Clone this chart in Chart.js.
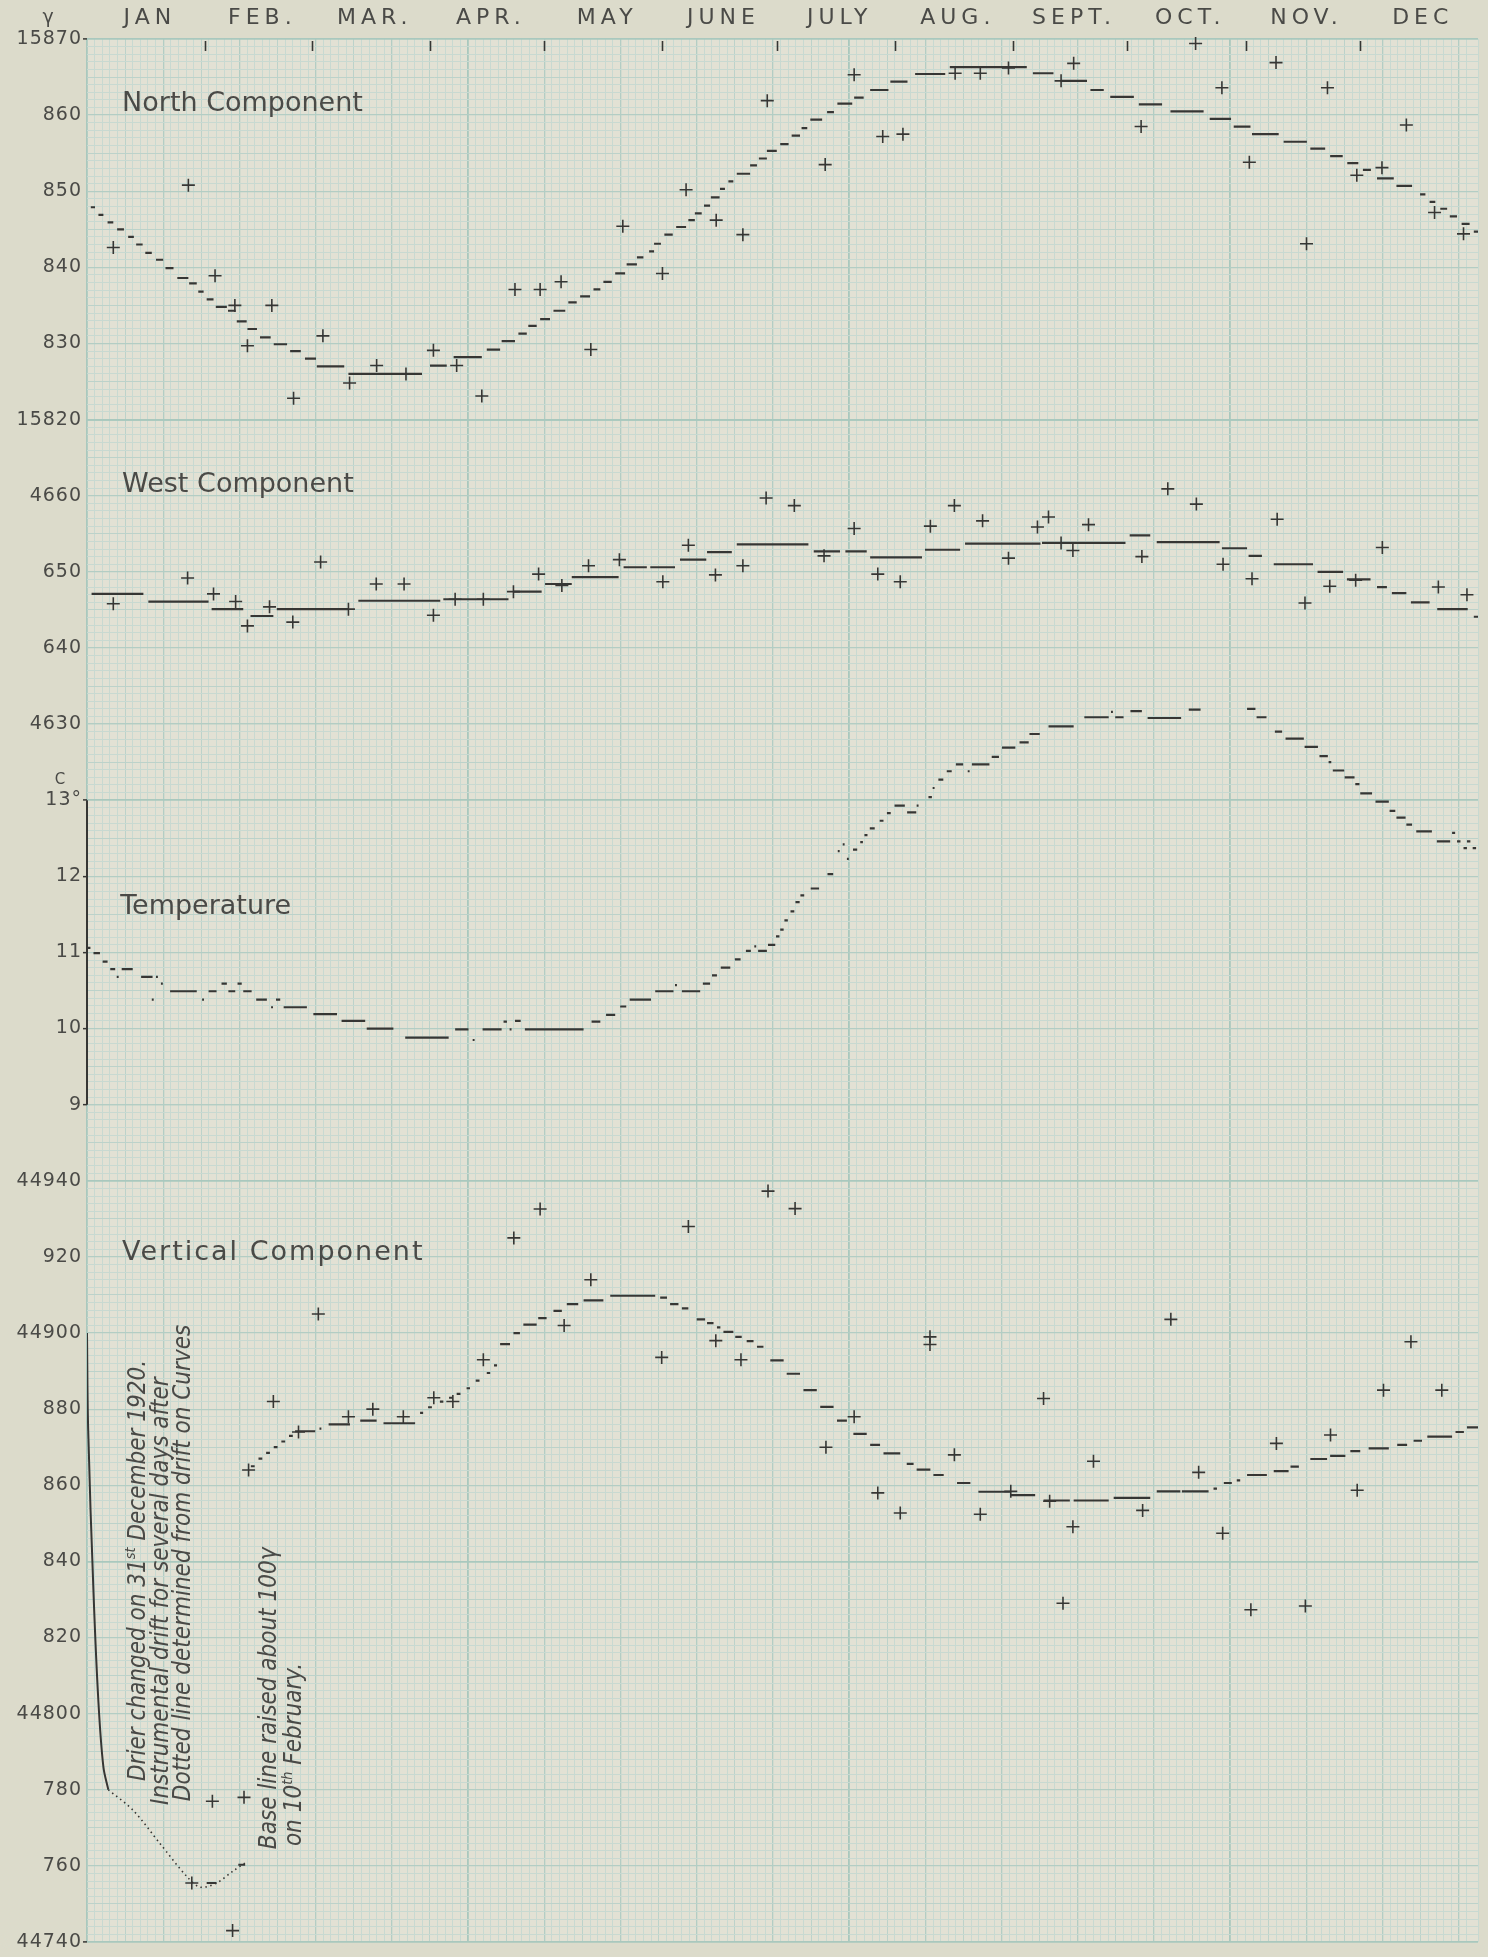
<!DOCTYPE html>
<html>
<head>
<meta charset="utf-8">
<title>Daily means 1921 - North, West, Temperature, Vertical</title>
<script src="https://cdn.jsdelivr.net/npm/chart.js@4.4.1/dist/chart.umd.min.js"></script>
<style>
  html, body { margin: 0; padding: 0; background: #dcdbcb; }
  #wrap { width: 1488px; height: 1957px; position: relative; }
</style>
</head>
<body>
<div id="wrap"><canvas id="chart"></canvas></div>
<script>
"use strict";

// --- axes text ---
const monthNames = ['JAN', 'FEB.', 'MAR.', 'APR.', 'MAY', 'JUNE', 'JULY', 'AUG.', 'SEPT.', 'OCT.', 'NOV.', 'DEC'];
const monthStarts = [0, 31, 59, 90, 120, 151, 181, 212, 243, 273, 304, 334, 365];

const northTicks = [15870, 15860, 15850, 15840, 15830, 15820];
const northTickLabels = ['15870', '860', '850', '840', '830', '15820'];
const westTicks = [4660, 4650, 4640, 4630];
const westTickLabels = ['4660', '650', '640', '4630'];
const tempTicks = [13, 12, 11, 10, 9];
const tempTickLabels = ['13°', '12', '11', '10', '9'];
const vertTicks = [44940, 44920, 44900, 44880, 44860, 44840, 44820, 44800, 44780, 44760, 44740];
const vertTickLabels = ['44940', '920', '44900', '880', '860', '840', '820', '44800', '780', '760', '44740'];

// --- mean curves, drawn as short level strokes: [first day, last day, value] ---
const northMeans = [
  [1.0,2.1,15847.9],[3.0,4.3,15846.9],[5.4,6.9,15845.9],[7.9,9.7,15845.0],[10.8,12.3,15844.0],
  [12.9,14.6,15843.0],[15.3,17.0,15841.9],[18.1,20.0,15841.0],[20.6,22.7,15839.9],[23.7,26.6,15838.6],
  [26.8,28.8,15837.9],[29.2,30.6,15836.8],[31.4,33.2,15835.8],[33.8,36.7,15834.8],[37.0,39.0,15834.3],
  [39.3,41.9,15832.9],[42.1,44.6,15831.9],[45.4,48.2,15830.8],[49.0,52.5,15829.9],[53.3,56.1,15829.0],
  [57.2,60.1,15828.0],[60.3,67.5,15827.0],[68.6,87.9,15826.0],[90.0,94.4,15827.1],[96.2,103.6,15828.2],
  [104.9,108.4,15829.2],[108.8,112.3,15830.3],[113.2,115.4,15831.3],[115.8,118.0,15832.3],[118.9,121.5,15833.2],
  [122.4,125.5,15834.3],[126.3,128.5,15835.4],[129.4,132.0,15836.2],[132.9,134.7,15837.1],[135.5,137.7,15838.1],
  [138.6,141.2,15839.2],[141.6,144.3,15840.4],[144.3,146.0,15841.3],[147.5,148.8,15842.1],[148.8,150.6,15843.1],
  [151.5,153.7,15844.3],[154.6,157.2,15845.3],[157.8,159.5,15846.2],[159.5,161.3,15847.1],[161.9,163.5,15848.1],
  [163.7,166.0,15849.2],[166.1,167.4,15850.3],[168.3,169.6,15851.3],[170.5,174.0,15852.3],[174.0,175.8,15853.4],
  [176.3,178.4,15854.3],[178.4,181.0,15855.3],[181.9,184.1,15856.2],[184.9,187.1,15857.3],[187.5,189.0,15858.3],
  [189.8,192.9,15859.4],[194.2,196.0,15860.4],[196.9,200.8,15861.5],[201.3,203.8,15862.3],[205.5,210.3,15863.3],
  [210.8,215.3,15864.4],[217.3,225.2,15865.4],[226.4,246.6,15866.3],[248.2,253.6,15865.5],[255.5,262.4,15864.5],
  [263.3,266.8,15863.3],[268.5,274.7,15862.4],[276.0,282.1,15861.4],[284.3,293.0,15860.5],[294.6,300.2,15859.5],
  [300.9,305.3,15858.5],[305.7,312.7,15857.5],[314.0,320.1,15856.5],[321.0,324.9,15855.6],[326.2,329.5,15854.6],
  [330.7,333.6,15853.7],[334.8,336.9,15852.8],[338.5,342.9,15851.7],[343.6,347.7,15850.7],[349.8,351.2,15849.6],
  [352.3,353.8,15848.6],[355.1,356.9,15847.7],[357.6,359.5,15846.7],[360.7,362.8,15845.7],[363.9,365.0,15844.7]
];
const westMeans = [
  [1.2,14.8,4647.1],[16.1,31.9,4646.1],[32.7,41.0,4645.1],[42.9,48.9,4644.2],[49.8,68.6,4645.1],
  [71.2,92.7,4646.2],[93.5,110.6,4646.4],[111.9,119.3,4647.4],[120.2,127.2,4648.4],[127.2,139.5,4649.3],
  [140.8,146.9,4650.6],[147.8,154.3,4650.6],[155.6,162.5,4651.6],[162.7,169.2,4652.6],[170.5,189.3,4653.6],
  [190.7,197.6,4652.7],[199.0,204.6,4652.7],[205.5,219.1,4651.9],[219.9,229.1,4652.9],[230.4,250.2,4653.7],
  [250.6,272.5,4653.8],[273.6,279.0,4654.8],[280.7,297.2,4653.9],[297.8,304.4,4653.1],[304.8,308.3,4652.1],
  [311.4,321.7,4651.0],[322.9,329.6,4650.0],[330.6,336.8,4649.0],[338.5,341.1,4648.0],[342.4,346.2,4647.2],
  [347.4,352.3,4646.0],[354.3,362.3,4645.1],[363.9,365.0,4644.1]
];
const tempMeans = [
  [0,0.9,11.06],[1.7,3.4,10.99],[4.1,5.4,10.88],[6.1,7.4,10.78],[7.8,8.3,10.68],[9.1,12.0,10.78],
  [14.2,17.2,10.68],[17.0,17.5,10.38],[18.1,18.6,10.68],[19.4,19.9,10.59],[21.8,28.8,10.49],[30.2,30.7,10.38],
  [31.9,34.0,10.49],[35.3,36.7,10.59],[37.1,38.9,10.49],[39.5,40.6,10.59],[41.0,43.2,10.49],[44.4,47.2,10.38],
  [48.3,48.8,10.28],[49.6,50.7,10.38],[51.6,57.7,10.28],[59.4,65.6,10.19],[66.8,73.0,10.10],[73.4,80.4,10.00],
  [83.5,94.9,9.88],[96.6,100.1,9.99],[101.2,101.7,9.85],[103.8,108.8,9.99],[109.3,110.2,10.09],[110.9,111.4,9.99],
  [112.3,113.8,10.10],[114.9,130.3,9.99],[132.4,134.7,10.09],[136.2,138.6,10.18],[139.9,141.5,10.29],
  [142.4,148.0,10.38],[149.1,153.9,10.49],[154.3,154.8,10.57],[156.1,160.9,10.49],[161.6,163.5,10.59],
  [164.0,165.3,10.70],[166.3,168.8,10.80],[170.0,171.5,10.91],[172.9,174.2,11.02],[175.1,175.6,11.08],
  [176.1,178.4,11.02],[178.7,180.6,11.10],[180.8,181.7,11.21],[181.9,182.8,11.30],[183.0,183.9,11.42],
  [184.6,185.6,11.54],[185.9,187.0,11.66],[187.2,188.2,11.75],[189.9,192.1,11.84],[194.3,195.8,12.03],
  [197.0,197.5,12.33],[198.3,198.8,12.42],[199.4,199.9,12.23],[201.0,202.1,12.35],[202.9,203.6,12.45],
  [204.0,204.8,12.54],[205.4,206.7,12.63],[208.0,209.0,12.73],[209.9,210.9,12.83],[211.9,214.6,12.93],
  [215.2,217.6,12.84],[217.7,218.2,12.93],[220.8,221.7,13.04],[221.9,222.4,13.16],[223.4,224.7,13.27],
  [225.6,226.9,13.38],[228.0,229.9,13.47],[231.1,231.6,13.38],[232.2,236.8,13.47],[237.4,239.3,13.57],
  [240.1,243.6,13.69],[244.7,247.1,13.76],[247.3,250.0,13.87],[252.3,258.9,13.97],[261.7,268.1,14.09],
  [268.7,269.2,14.16],[269.8,272.0,14.09],[273.8,276.8,14.17],[278.3,287.1,14.08],[289.1,292.2,14.19],
  [294.1,304.0,14.31],[304.4,306.6,14.20],[306.9,309.5,14.09],[311.7,313.6,13.90],[314.5,319.3,13.81],
  [319.5,323.0,13.70],[323.4,325.6,13.58],[325.8,326.5,13.50],[326.9,329.9,13.39],[330.0,332.6,13.30],
  [332.8,333.9,13.21],[334.1,337.2,13.09],[338.1,341.6,12.98],[341.8,343.3,12.86],[343.6,346.0,12.77],
  [346.2,347.7,12.68],[348.8,352.9,12.59],[354.2,357.7,12.46],[358.2,359.0,12.57],[359.5,360.4,12.46],
  [361.2,362.1,12.37],[362.1,363.0,12.46],[363.6,364.5,12.37]
];
const vertMeans = [
  [31.4,34.0,44755.5],[39.7,41.5,44760.3],
  [43.0,44.0,44865],[45.0,46.0,44867],[47.0,48.0,44868.5],[49.0,50.0,44870],[51.0,52.0,44871.5],
  [53.0,54.0,44873],[54.6,59.9,44874.2],[61.0,61.5,44874.9],[63.4,69.0,44876],[71.7,76.0,44877],
  [77.8,86.1,44876.3],[87.4,88.2,44879],[89.5,90.5,44880.5],[92.6,93.5,44882],[95.0,96.0,44883],
  [97.0,98.0,44884],[99.6,100.5,44885.5],[102.0,103.0,44887.5],[104.9,105.8,44889.5],[106.8,107.6,44891.5],
  [108.4,111.0,44897.1],[111.9,113.6,44900],[114.5,118.0,44902.2],[118.4,120.6,44903.9],[122.4,124.6,44905.8],
  [125.9,128.9,44907.6],[130.3,135.5,44908.6],[137.3,149.1,44909.8],[150.4,152.2,44909.3],[153.0,155.2,44907.6],
  [156.1,157.8,44906.5],[160.0,162.2,44903.6],[162.7,164.4,44902.6],[165.3,166.2,44901.5],[167.0,169.6,44900.3],
  [170.1,171.8,44899],[173.1,174.9,44897.9],[175.8,177.5,44896.4],[179.3,182.8,44892.8],[183.6,187.1,44889.3],
  [188.0,191.5,44885],[192.4,195.9,44880.6],[196.8,199.4,44877],[201.1,204.6,44873.5],[205.5,208.1,44870.6],
  [209.0,213.4,44868.4],[215.1,216.9,44865.6],[217.7,221.3,44864.1],[222.1,224.8,44862.7],[228.3,231.8,44860.6],
  [233.9,242.3,44858.3],[242.3,248.8,44857.4],[251.0,257.9,44856],[258.9,268.1,44856],[269.4,279.0,44856.7],
  [280.7,286.9,44858.4],[287.3,294.3,44858.4],[295.6,296.5,44859.1],[298.3,300.4,44860.6],[301.7,302.6,44861.3],
  [304.4,309.6,44862.7],[311.4,315.3,44863.7],[315.8,318.0,44864.9],[321.0,325.4,44866.9],[326.2,330.2,44867.7],
  [331.5,334.1,44869],[336.3,341.6,44869.7],[343.8,346.4,44870.6],[348.1,350.3,44871.7],[351.7,358.2,44872.8],
  [359.1,361.3,44874],[362.1,365.0,44875.2]
];
// instrument drift after the drier change, start of January
const driftSolid = [[0,44900],[0.3,44875],[1.7,44832],[3.0,44803],[4.3,44786],[5.6,44780]];
const driftDotted = [[5.6,44780],[12.2,44774.5],[19.2,44765.8],[26.2,44757.2],[29.7,44754.4],[34.0,44755.5],[38.4,44758.7],[41.5,44760.8]];

// --- single days, drawn as "+": [day, value] ---
const northDays = [
  [6.9,15842.6],[26.6,15850.8],[33.6,15838.9],[38.8,15835.0],[42.1,15829.7],[48.5,15835.0],[54.2,15822.8],
  [61.9,15831.0],[68.9,15824.8],[76.0,15827.1],[83.7,15826.0],[90.9,15829.1],[97.0,15827.1],[103.6,15823.1],
  [112.3,15837.1],[118.9,15837.1],[124.4,15838.1],[132.2,15829.2],[140.6,15845.4],[151.0,15839.2],[157.2,15850.2],
  [165.1,15846.2],[172.1,15844.3],[178.5,15861.9],[193.7,15853.5],[201.3,15865.3],[208.8,15857.2],[214.1,15857.5],
  [227.8,15865.5],[234.4,15865.5],[241.8,15866.2],[255.6,15864.5],[258.9,15866.8],[276.6,15858.5],[290.9,15869.4],
  [297.8,15863.6],[305.0,15853.8],[312.0,15866.9],[320.0,15843.1],[325.5,15863.6],[333.2,15852.1],[339.8,15853.1],
  [346.2,15858.7],[353.6,15847.2],[361.2,15844.4]
];
const westDays = [
  [6.9,4645.8],[26.4,4649.2],[33.2,4647.1],[39.0,4646.1],[42.1,4642.9],[47.9,4645.4],[54.0,4643.4],
  [61.3,4651.3],[68.6,4645.1],[75.9,4648.4],[83.2,4648.4],[90.9,4644.3],[96.6,4646.4],[104.0,4646.4],
  [111.9,4647.4],[118.5,4649.7],[124.6,4648.2],[131.6,4650.8],[139.7,4651.6],[151.1,4648.7],[157.8,4653.5],
  [164.9,4649.6],[172.1,4650.8],[178.2,4659.7],[185.6,4658.7],[193.4,4652.1],[201.3,4655.7],[207.5,4649.7],
  [213.4,4648.7],[221.3,4656.0],[227.6,4658.7],[235.0,4656.7],[241.8,4651.8],[249.4,4655.9],[252.3,4657.2],
  [255.6,4653.8],[258.7,4652.8],[262.8,4656.2],[276.8,4652.0],[283.6,4660.9],[291.1,4658.9],[298.1,4651.0],
  [305.7,4649.1],[312.3,4656.9],[319.6,4645.9],[326.1,4648.1],[332.9,4648.9],[339.9,4653.2],[354.6,4648.0],
  [362.1,4647.0]
];
const vertDays = [
  [27.5,44755.5],[32.9,44777],[38.2,44743],[41.2,44778],[42.4,44864],[48.9,44882],[55.5,44874],[60.7,44905],
  [68.6,44878],[75.0,44880],[83.0,44878],[91.0,44883],[96.0,44882],[104.0,44893],[112.0,44925],[118.9,44932.6],
  [125.2,44902],[132.2,44914],[150.8,44893.6],[157.8,44928],[165.0,44898],[171.6,44893],[178.7,44937.3],
  [185.8,44932.7],[193.9,44870],[201.3,44878],[207.5,44858],[213.4,44852.7],[221.2,44899],[221.2,44897],
  [227.6,44868],[234.4,44852.4],[242.4,44858.4],[251.0,44882.8],[252.6,44855.8],[256.1,44829],[258.7,44849.1],
  [264.1,44866.3],[277.0,44853.4],[284.4,44903.6],[291.7,44863.4],[298.0,44847.4],[305.4,44827.3],[312.1,44871],
  [319.7,44828.3],[326.3,44873.2],[333.3,44858.7],[340.2,44885],[347.4,44897.7],[355.5,44885]
];

const ink = '#363634';
const textInk = '#4a4a47';
Chart.defaults.font.family = "'DejaVu Sans', sans-serif";
Chart.defaults.color = textInk;

// graph paper: fine, half, whole and heavy rulings
const ruleColor = { heavy: '#a9c8be', major: '#b3cdc4', mid: '#bcd2ca', minor: '#c8d9d1' };
const ruleWidth = { heavy: 1.8, major: 1.3, mid: 1, minor: 1 };

function ruleKind(v, base, unit, heavy) {
  if (heavy.some(h => Math.abs(h - v) < unit / 100)) return 'heavy';
  const n = Math.round((v - base) / unit * 10);
  if (n % 10 === 0) return 'major';
  if (n % 5 === 0) return 'mid';
  return 'minor';
}

function levelStrokes(list) {
  const pts = [];
  for (const [s, e, v] of list) {
    pts.push({x: s, y: v}, {x: e, y: v}, {x: e, y: null});
  }
  return pts;
}

function meanSet(label, list, axis) {
  return {
    label, type: 'line', data: levelStrokes(list), yAxisID: axis,
    borderColor: ink, borderWidth: 2.2, borderCapStyle: 'butt',
    pointRadius: 0, spanGaps: false, tension: 0, clip: 20
  };
}

function crossSet(label, list, axis) {
  return {
    label, type: 'line', data: list.map(([d, v]) => ({x: d, y: v})), yAxisID: axis,
    showLine: false, pointStyle: 'cross', pointRadius: 6.5,
    pointBorderWidth: 1.6, pointBorderColor: ink, clip: 20
  };
}

function panelAxis(cfg) {
  return {
    type: 'linear', position: 'left', stack: 'panels',
    stackWeight: cfg.weightRows, weight: cfg.order,
    min: cfg.min, max: cfg.max,
    border: { display: false },
    grid: {
      color: c => ruleColor[ruleKind(c.tick.value, cfg.min, cfg.unit, cfg.heavy)],
      lineWidth: c => ruleWidth[ruleKind(c.tick.value, cfg.min, cfg.unit, cfg.heavy)],
      drawTicks: true, tickLength: 4, tickWidth: 1.5,
      tickColor: c => cfg.marked.some(m => Math.abs(m - c.tick.value) < 1e-6) ? ink : 'transparent'
    },
    ticks: {
      stepSize: cfg.unit / 10, autoSkip: false, padding: 1,
      font: { size: 19 },
      callback: v => {
        const i = cfg.ticks.findIndex(t => Math.abs(t - v) < 1e-6);
        return i >= 0 ? cfg.labels[i] : '';
      }
    },
    afterFit: s => { s.width = 87; }
  };
}

function txt(ctx, s, x, y, font, align) {
  ctx.font = font;
  ctx.textAlign = align || 'left';
  ctx.fillText(s, x, y);
}

// rotated note, reading upwards, with optional superscript pieces
function upNote(ctx, x, y, parts, size) {
  ctx.save();
  ctx.translate(x, y);
  ctx.rotate(-Math.PI / 2);
  ctx.textBaseline = 'middle';
  ctx.textAlign = 'left';
  let cx = 0;
  for (const p of parts) {
    const fs = p.sup ? size * 0.6 : size;
    ctx.font = `italic ${fs}px 'Liberation Sans Narrow', 'DejaVu Sans Condensed', sans-serif`;
    ctx.fillText(p.t, cx, p.sup ? -size * 0.3 : 0);
    cx += ctx.measureText(p.t).width;
  }
  ctx.restore();
}

const paper = {
  id: 'paper',
  afterLayout(chart) {
    // wide lettering for the month names only
    const top = chart.scales.xTop;
    if (top && !top._spaced) {
      const draw = top.drawLabels.bind(top);
      top.drawLabels = area => {
        chart.ctx.letterSpacing = '5px';
        draw(area);
        chart.ctx.letterSpacing = '1px';
      };
      top._spaced = true;
    }
  },
  beforeDraw(chart) {
    const {ctx, chartArea: a} = chart;
    ctx.save();
    ctx.fillStyle = '#e2e1d4';
    ctx.fillRect(a.left, a.top, a.width, a.height);
    ctx.restore();
    ctx.letterSpacing = '1px';
  },
  afterDraw(chart) {
    const {ctx, chartArea: a, scales} = chart;
    const x = scales.x, yN = scales.yN, yW = scales.yW, yT = scales.yT, yV = scales.yV;
    ctx.save();
    ctx.fillStyle = textInk;
    ctx.strokeStyle = ink;
    ctx.textBaseline = 'alphabetic';

    // month boundary marks below the top edge
    ctx.lineWidth = 1.6;
    for (let i = 1; i < monthStarts.length - 1; i++) {
      const px = Math.round(x.getPixelForValue(monthStarts[i])) + 0.5;
      ctx.beginPath();
      ctx.moveTo(px, a.top + 2);
      ctx.lineTo(px, a.top + 12);
      ctx.stroke();
    }

    // temperature scale line
    ctx.lineWidth = 2;
    ctx.beginPath();
    ctx.moveTo(a.left, yT.getPixelForValue(13));
    ctx.lineTo(a.left, yT.getPixelForValue(9));
    ctx.stroke();

    // units
    ctx.letterSpacing = '0px';
    ctx.textBaseline = 'middle';
    txt(ctx, 'γ', 48, 18, "19px 'DejaVu Sans', sans-serif", 'center');
    txt(ctx, 'C', 60, yT.getPixelForValue(13) - 20, "15px 'DejaVu Sans', sans-serif", 'center');

    // panel titles
    ctx.textBaseline = 'alphabetic';
    const tf = "27px 'DejaVu Sans', sans-serif";
    txt(ctx, 'North Component', x.getPixelForValue(9.2), yN.getPixelForValue(15860.5), tf);
    txt(ctx, 'West Component', x.getPixelForValue(9.2), yW.getPixelForValue(4660.5), tf);
    txt(ctx, 'Temperature', x.getPixelForValue(8.7), yT.getPixelForValue(11.5), tf);
    ctx.letterSpacing = '2px';
    txt(ctx, 'Vertical Component', x.getPixelForValue(9.2), yV.getPixelForValue(44919.3), tf);
    ctx.letterSpacing = '0px';

    // notes on the vertical component
    const ns = 24;
    upNote(ctx, x.getPixelForValue(13.6), yV.getPixelForValue(44782.3),
      [{t: 'Drier changed on 31'}, {t: 'st', sup: true}, {t: ' December 1920.'}], ns);
    upNote(ctx, x.getPixelForValue(19.7), yV.getPixelForValue(44776),
      [{t: 'Instrumental drift for several days after'}], ns);
    upNote(ctx, x.getPixelForValue(25.5), yV.getPixelForValue(44777),
      [{t: 'Dotted line determined from drift on Curves'}], ns);
    upNote(ctx, x.getPixelForValue(48.0), yV.getPixelForValue(44764.4),
      [{t: 'Base line raised about 100γ'}], ns);
    upNote(ctx, x.getPixelForValue(54.6), yV.getPixelForValue(44765.2),
      [{t: 'on 10'}, {t: 'th', sup: true}, {t: ' February.'}], ns);
    ctx.restore();
  }
};

new Chart(document.getElementById('chart'), {
  type: 'line',
  data: {
    datasets: [
      meanSet('North Component', northMeans, 'yN'),
      crossSet('North Component, days', northDays, 'yN'),
      meanSet('West Component', westMeans, 'yW'),
      crossSet('West Component, days', westDays, 'yW'),
      meanSet('Temperature', tempMeans, 'yT'),
      meanSet('Vertical Component', vertMeans, 'yV'),
      crossSet('Vertical Component, days', vertDays, 'yV'),
      {
        label: 'drift', type: 'line', data: driftSolid.map(([d, v]) => ({x: d, y: v})), yAxisID: 'yV',
        borderColor: ink, borderWidth: 2, pointRadius: 0, tension: 0.35
      },
      {
        label: 'drift, dotted', type: 'line', data: driftDotted.map(([d, v]) => ({x: d, y: v})), yAxisID: 'yV',
        borderColor: ink, borderWidth: 1.6, borderDash: [1.5, 3.5], pointRadius: 0, tension: 0.3
      }
    ]
  },
  options: {
    responsive: true,
    maintainAspectRatio: false,
    devicePixelRatio: 1,
    animation: false,
    events: [],
    layout: { padding: { left: 0, right: 10, top: 0, bottom: 0 } },
    plugins: { legend: { display: false }, tooltip: { enabled: false } },
    scales: {
      x: {
        type: 'linear', position: 'bottom', min: 0, max: 365,
        border: { display: false },
        grid: {
          color: c => ruleColor[ruleKind(c.tick.value, 0, 20, [0, 100, 200, 300])],
          lineWidth: c => ruleWidth[ruleKind(c.tick.value, 0, 20, [0, 100, 200, 300])],
          drawTicks: false
        },
        ticks: { display: false, stepSize: 2, autoSkip: false },
        afterFit: s => { s.height = 15; }
      },
      xTop: {
        type: 'linear', position: 'top', min: 0, max: 365,
        border: { display: false },
        grid: { display: false, drawTicks: false },
        ticks: {
          autoSkip: false, maxRotation: 0, padding: 8,
          font: { size: 22 },
          callback: (v, i) => monthNames[i]
        },
        afterBuildTicks: s => {
          s.ticks = monthNames.map((n, i) => ({ value: (monthStarts[i] + monthStarts[i + 1]) / 2 + 1 }));
        },
        afterFit: s => { s.height = 39; }
      },
      yN: panelAxis({ min: 15820, max: 15870, unit: 10, weightRows: 5, order: 4,
        heavy: [15820, 15870], marked: [15870], ticks: northTicks, labels: northTickLabels }),
      yW: panelAxis({ min: 4630, max: 4670, unit: 10, weightRows: 4, order: 3,
        heavy: [4670], marked: [], ticks: westTicks, labels: westTickLabels }),
      yT: panelAxis({ min: 9, max: 14, unit: 1, weightRows: 5, order: 2,
        heavy: [13], marked: [13, 12, 11, 10, 9], ticks: tempTicks, labels: tempTickLabels }),
      yV: panelAxis({ min: 44740, max: 44960, unit: 20, weightRows: 11, order: 1,
        heavy: [44740, 44840, 44940], marked: [44740], ticks: vertTicks, labels: vertTickLabels })
    }
  },
  plugins: [paper]
});
</script>
</body>
</html>
